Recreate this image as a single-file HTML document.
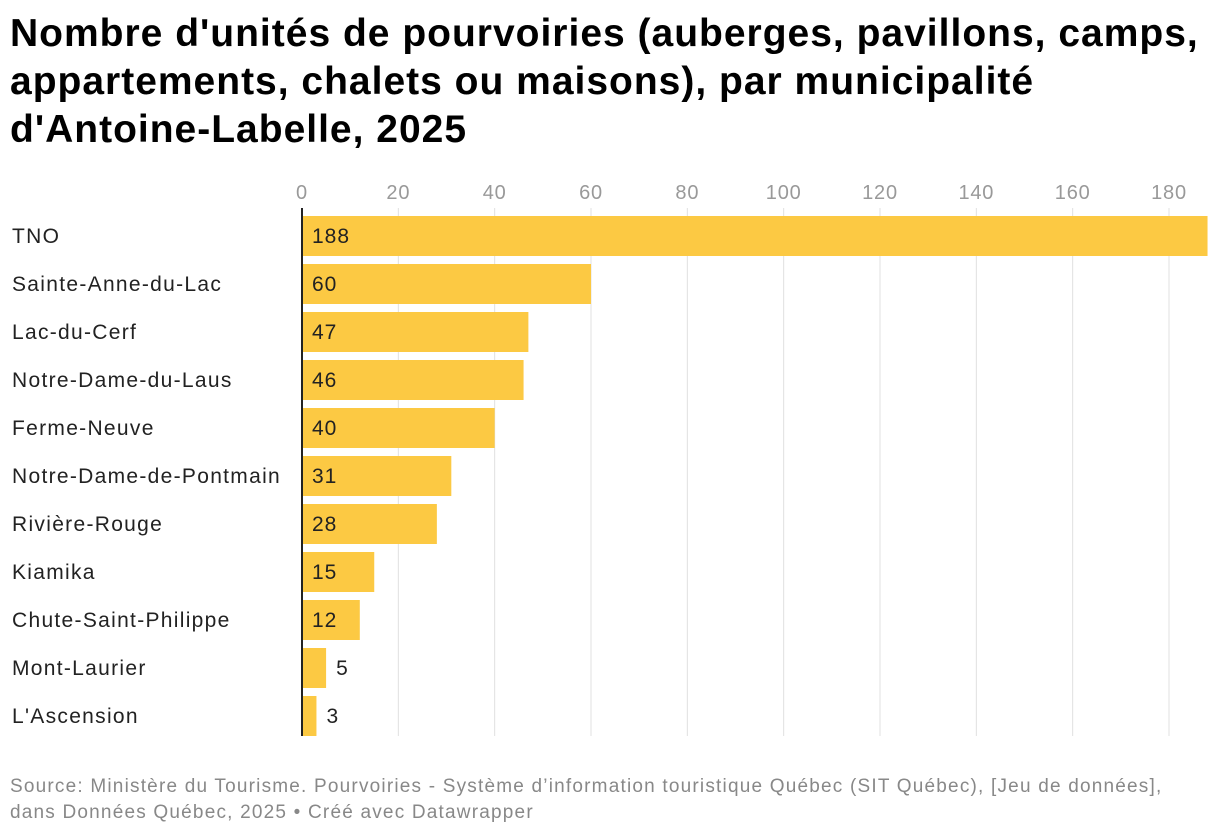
<!DOCTYPE html>
<html><head><meta charset="utf-8"><style>
body{margin:0;background:#fff;font-family:"Liberation Sans",sans-serif;}
#wrap{position:relative;width:1220px;height:838px;overflow:hidden}
h1{position:absolute;left:10px;top:10px;margin:0;font-size:39px;line-height:48px;font-weight:bold;color:#000;letter-spacing:1px;white-space:nowrap}
#src{position:absolute;left:10px;top:774px;font-size:19px;line-height:26px;color:#888;letter-spacing:1.2px;white-space:nowrap}
</style></head><body>
<div id="wrap">
<h1>Nombre d'unités de pourvoiries (auberges, pavillons, camps,<br>appartements, chalets ou maisons), par municipalité<br>d'Antoine-Labelle, 2025</h1>
<svg id="svg" width="1220" height="838" style="position:absolute;left:0;top:0"></svg>
<div id="src">Source: Ministère du Tourisme. Pourvoiries - Système d’information touristique Québec (SIT Québec), [Jeu de données],<br>dans Données Québec, 2025 • Créé avec Datawrapper</div>
</div>
<script>
const categories=["TNO","Sainte-Anne-du-Lac","Lac-du-Cerf","Notre-Dame-du-Laus","Ferme-Neuve","Notre-Dame-de-Pontmain","Rivière-Rouge","Kiamika","Chute-Saint-Philippe","Mont-Laurier","L'Ascension"];
const values=[188,60,47,46,40,31,28,15,12,5,3];
const ticks=[0,20,40,60,80,100,120,140,160,180];
const NS="http://www.w3.org/2000/svg";
const svg=document.getElementById('svg');
const x0=302,pxPer=867/180;
const x=v=>x0+v*pxPer;
const rowY=i=>216+i*48;
function mk(t,a,txt){const e=document.createElementNS(NS,t);for(const k in a)e.setAttribute(k,a[k]);if(txt!==undefined)e.textContent=txt;svg.appendChild(e);return e;}
ticks.forEach(t=>{
 const g=mk('line',{x1:x(t),x2:x(t),y1:208,y2:736,stroke:'#e0e0e0','stroke-width':1});
 
 
 const l=mk('text',{x:x(t),y:199,'text-anchor':'middle','font-size':20,fill:'#999','font-family':'Liberation Sans','letter-spacing':'0.8'},t);
 
 
});
categories.forEach((c,i)=>{
 const y=rowY(i);
 const lab=mk('text',{x:12,y:y+27,'font-size':21,fill:'#222','font-family':'Liberation Sans','letter-spacing':'1.3'},c);
 
 
 const b=mk('rect',{x:x0,y:y,width:x(values[i])-x0,height:40,fill:'#fcc943'});
 
 
 const w=x(values[i])-x0;
 const vx=w>40?x0+10:x(values[i])+10;
 const v=mk('text',{x:vx,y:y+27,'font-size':21,fill:'#222','font-family':'Liberation Sans','letter-spacing':'1'},values[i]);
 
 
});
const ax=mk('line',{x1:x0,x2:x0,y1:208,y2:736,stroke:'#222','stroke-width':2});


</script>
</body></html>
